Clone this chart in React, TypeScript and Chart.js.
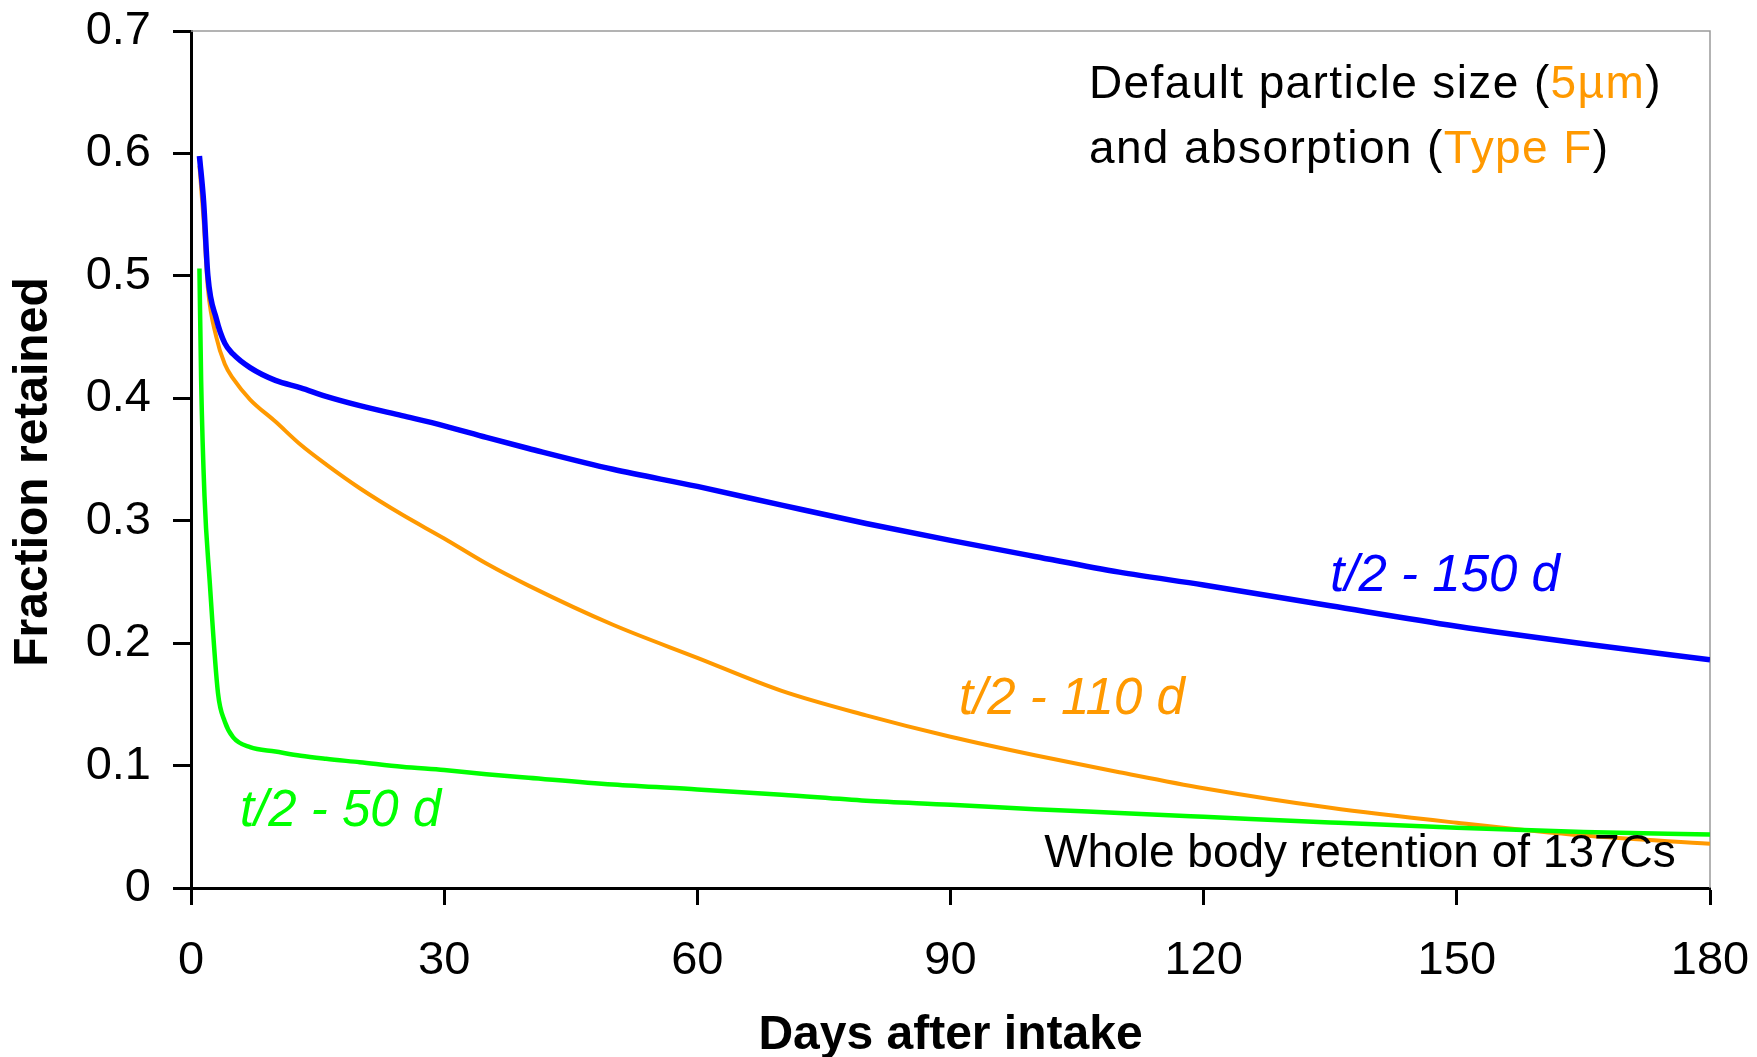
import { useEffect, useRef } from "react";
import { Chart, registerables } from "chart.js";

Chart.register(...registerables);

// ---- Data ----
const blueDays = [1, 1.5, 2, 3, 4, 5, 7, 10, 13, 16, 20, 25, 30, 35, 40, 50, 60, 70, 80, 90, 100, 110, 120, 135, 150, 165, 180];
const blueValues = [0.598, 0.56, 0.5, 0.465, 0.445, 0.436, 0.425, 0.4146, 0.4085, 0.4016, 0.394, 0.3858, 0.3775, 0.368, 0.359, 0.342, 0.328, 0.3127, 0.2977, 0.2839, 0.2708, 0.258, 0.2475, 0.2305, 0.2138, 0.1995, 0.1864];

const orangeDays = [1, 1.5, 2, 3, 4, 5, 7, 10, 13, 16, 20, 25, 30, 35, 40, 50, 60, 70, 80, 90, 100, 110, 120, 135, 150, 165, 180];
const orangeValues = [0.59, 0.545, 0.49, 0.45, 0.428, 0.416, 0.399, 0.381, 0.362, 0.346, 0.3265, 0.305, 0.2855, 0.265, 0.247, 0.215, 0.188, 0.161, 0.141, 0.1235, 0.1084, 0.0946, 0.0815, 0.0655, 0.0533, 0.0428, 0.0362];

const greenDays = [1, 1.2, 1.6, 2.2, 3.2, 4, 5, 7, 10, 13, 16, 20, 25, 30, 35, 40, 50, 60, 70, 80, 90, 100, 110, 120, 135, 150, 165, 180];
const greenValues = [0.506, 0.415, 0.32, 0.252, 0.159, 0.136, 0.123, 0.115, 0.1115, 0.108, 0.1055, 0.1027, 0.099, 0.0963, 0.093, 0.0901, 0.0845, 0.0805, 0.0762, 0.0713, 0.068, 0.0643, 0.0613, 0.0582, 0.0535, 0.0492, 0.0458, 0.0437];

const xTickValues = [0, 30, 60, 90, 120, 150, 180];
const yTickLabels = ["0", "0.1", "0.2", "0.3", "0.4", "0.5", "0.6", "0.7"];

const seriesNames = ["t/2 - 150 d", "t/2 - 50 d", "t/2 - 110 d"];
const xTitle = "Days after intake";
const yTitle = "Fraction retained";

// ---- Styles ----
const FONT = "'Liberation Sans', Arial, Helvetica, sans-serif";
const BLUE = "#0000ff";
const ORANGE = "#ff9900";
const GREEN = "#00ff00";
const BLACK = "#000000";

type Part = [string, string];
type Note = { day: number; value: number; parts: Part[]; italic: boolean; size: number; spacing?: number };

const notes: Note[] = [
  { day: 106.4, value: 0.6451, parts: [["Default particle size (", BLACK], ["5µm", ORANGE], [")", BLACK]], italic: false, size: 46, spacing: 1.4 },
  { day: 106.4, value: 0.592, parts: [["and absorption (", BLACK], ["Type F", ORANGE], [")", BLACK]], italic: false, size: 46, spacing: 1.4 },
  { day: 101.1, value: 0.0168, parts: [["Whole body retention of 137Cs", BLACK]], italic: false, size: 46 },
  { day: 135.0, value: 0.2429, parts: [[seriesNames[0], BLUE]], italic: true, size: 51 },
  { day: 91.0, value: 0.1418, parts: [[seriesNames[2], ORANGE]], italic: true, size: 51 },
  { day: 5.8, value: 0.0505, parts: [[seriesNames[1], GREEN]], italic: true, size: 51 },
];

const framePlugin = {
  id: "frameAndNotes",
  beforeDatasetsDraw(chart: any) {
    const { ctx, chartArea: a } = chart;
    ctx.save();
    ctx.strokeStyle = "#9a9a9a";
    ctx.lineWidth = 1.5;
    ctx.beginPath();
    ctx.moveTo(a.left, a.top);
    ctx.lineTo(a.right, a.top);
    ctx.lineTo(a.right, a.bottom);
    ctx.stroke();
    ctx.restore();
  },
  afterDatasetsDraw(chart: any) {
    const { ctx, chartArea: a } = chart;
    const xs = chart.scales.x;
    const ys = chart.scales.y;
    ctx.save();
    ctx.textBaseline = "alphabetic";
    ctx.textAlign = "left";
    for (const n of notes) {
      ctx.font = `${n.italic ? "italic " : ""}${n.size}px ${FONT}`;
      (ctx as any).letterSpacing = `${n.spacing ?? 0}px`;
      let x = xs.getPixelForValue(n.day);
      const y = ys.getPixelForValue(n.value);
      for (const [text, color] of n.parts) {
        ctx.fillStyle = color;
        ctx.fillText(text, x, y);
        x += ctx.measureText(text).width;
      }
    }
    (ctx as any).letterSpacing = "0px";
    ctx.restore();

    // y-axis title (slightly below the vertical centre, as in the reference)
    ctx.save();
    ctx.translate(34, (a.top + a.bottom) / 2 + 12.5);
    ctx.rotate(-Math.PI / 2);
    ctx.font = `bold 48px ${FONT}`;
    ctx.fillStyle = BLACK;
    ctx.textAlign = "center";
    ctx.textBaseline = "middle";
    ctx.fillText(yTitle, 0, 0);
    ctx.restore();
  },
};

export default function App() {
  const canvasRef = useRef<HTMLCanvasElement | null>(null);

  useEffect(() => {
    document.body.style.margin = "0";
    const canvas = canvasRef.current;
    if (!canvas) return;

    const toPoints = (d: number[], v: number[]) => d.map((x, i) => ({ x, y: v[i] }));

    const chart = new Chart(canvas, {
      type: "line",
      data: {
        datasets: [
          {
            label: seriesNames[0],
            data: toPoints(blueDays, blueValues),
            borderColor: BLUE,
            borderWidth: 5.5,
            pointRadius: 0,
            cubicInterpolationMode: "monotone",
            fill: false,
          },
          {
            label: seriesNames[1],
            data: toPoints(greenDays, greenValues),
            borderColor: GREEN,
            borderWidth: 4.5,
            pointRadius: 0,
            cubicInterpolationMode: "monotone",
            fill: false,
          },
          {
            label: seriesNames[2],
            data: toPoints(orangeDays, orangeValues),
            borderColor: ORANGE,
            borderWidth: 4,
            pointRadius: 0,
            cubicInterpolationMode: "monotone",
            fill: false,
          },
        ],
      },
      options: {
        animation: false,
        responsive: true,
        maintainAspectRatio: false,
        layout: { padding: { left: 0, right: 47, top: 31, bottom: 0 } },
        plugins: {
          legend: { display: false },
          tooltip: { enabled: false },
        },
        scales: {
          x: {
            type: "linear",
            min: 0,
            max: 180,
            afterBuildTicks: (s: any) => {
              s.ticks = xTickValues.map((value) => ({ value }));
            },
            ticks: {
              color: BLACK,
              font: { family: FONT, size: 47 },
              padding: 28,
              maxRotation: 0,
              autoSkip: false,
              callback: (v: any) => String(v),
            },
            grid: {
              display: true,
              drawOnChartArea: false,
              drawTicks: true,
              tickLength: 17,
              tickWidth: 3,
              tickColor: BLACK,
            },
            border: { display: true, color: BLACK, width: 3 },
            title: {
              display: true,
              text: xTitle,
              color: BLACK,
              font: { family: FONT, size: 48, weight: "bold", lineHeight: 0.875 },
              padding: 0,
            },
            afterFit: (s: any) => {
              s.height = 169;
              s.paddingLeft = 0;
              s.paddingRight = 0;
            },
          },
          y: {
            type: "linear",
            min: 0,
            max: 0.7,
            ticks: {
              stepSize: 0.1,
              color: BLACK,
              font: { family: FONT, size: 47 },
              padding: 22,
              callback: (_v: any, i: number) => yTickLabels[i],
            },
            grid: {
              display: true,
              drawOnChartArea: false,
              drawTicks: true,
              tickLength: 18,
              tickWidth: 3,
              tickColor: BLACK,
            },
            border: { display: true, color: BLACK, width: 3 },
            title: { display: false, text: yTitle },
            afterFit: (s: any) => {
              s.width = 191;
              s.paddingTop = 0;
              s.paddingBottom = 0;
            },
          },
        },
      },
      plugins: [framePlugin],
    } as any);

    return () => chart.destroy();
  }, []);

  return (
    <div style={{ position: "relative", width: "1757px", height: "1057px" }}>
      <canvas ref={canvasRef} />
    </div>
  );
}
